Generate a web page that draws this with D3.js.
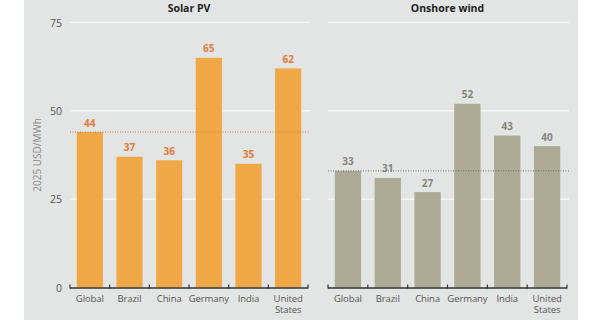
<!DOCTYPE html>
<html>
<head>
<meta charset="utf-8">
<script src="https://cdn.jsdelivr.net/npm/d3@7"></script>
<style>
    body { margin: 0; background: #fff; }
    svg { display: block; font-family: 'Open Sans', 'Noto Sans', sans-serif; }
</style>
</head>
<body>
<svg id="chart" width="600" height="320"></svg>
<script>
var countries = ['Global', 'Brazil', 'China', 'Germany', 'India', 'United States'];
var solarValues = [44, 37, 36, 65, 35, 62];
var windValues = [33, 31, 27, 52, 43, 40];
var yTicks = [0, 25, 50, 75];
var panelTitles = ['Solar PV', 'Onshore wind'];

var svg = d3.select('#chart');

// grey background panel
svg.append('rect')
    .attr('x', 24)
    .attr('y', 0)
    .attr('width', 554)
    .attr('height', 320)
    .attr('fill', '#e3e5e4');

var y = d3.scaleLinear().domain([0, 75]).range([287.5, 22.5]);

var panels = [
    {title: panelTitles[0], values: solarValues, x0: 70, x1: 308, bar: '#f0a846', label: '#e07b39', ref: '#c9824a'},
    {title: panelTitles[1], values: windValues, x0: 328, x1: 567, bar: '#aca994', label: '#85857c', ref: '#6f6f6a'}
];

// y axis labels
svg.selectAll('.ylab')
    .data(yTicks)
    .enter()
    .append('text')
    .attr('class', 'ylab')
    .attr('x', 62)
    .attr('y', function(d) { return y(d) + 4; })
    .attr('text-anchor', 'end')
    .attr('font-size', 10.5)
    .attr('fill', '#555')
    .text(function(d) { return d; });

svg.append('text')
    .attr('transform', 'translate(41,155) rotate(-90)')
    .attr('text-anchor', 'middle')
    .attr('font-size', 10)
    .attr('fill', '#8a8a8a')
    .text('2025 USD/MWh');

panels.forEach(function(p) {
    var x = d3.scaleBand().domain(countries).range([p.x0, p.x1]).paddingInner(0.34).paddingOuter(0.17);
    var g = svg.append('g');

    // gridlines
    g.selectAll('.grid')
        .data(yTicks.slice(1))
        .enter()
        .append('line')
        .attr('x1', p.x0)
        .attr('x2', p.x1 + 2)
        .attr('y1', function(d) { return y(d); })
        .attr('y2', function(d) { return y(d); })
        .style('stroke', '#fafafa')
        .style('stroke-width', 1.2);

    g.append('text')
        .attr('x', (p.x0 + p.x1) / 2)
        .attr('y', 12)
        .attr('text-anchor', 'middle')
        .attr('font-size', 10.5)
        .attr('font-weight', 'bold')
        .attr('fill', '#222')
        .text(p.title);

    g.selectAll('.bar')
        .data(p.values)
        .enter()
        .append('rect')
        .attr('x', function(d, i) { return x(countries[i]); })
        .attr('y', function(d) { return y(d); })
        .attr('width', x.bandwidth())
        .attr('height', function(d) { return y(0) - y(d); })
        .attr('fill', p.bar);

    g.selectAll('.val')
        .data(p.values)
        .enter()
        .append('text')
        .attr('x', function(d, i) { return x(countries[i]) + x.bandwidth() / 2; })
        .attr('y', function(d) { return y(d) - 5.5; })
        .attr('text-anchor', 'middle')
        .attr('font-size', 10)
        .attr('font-weight', 'bold')
        .attr('fill', p.label)
        .text(function(d) { return d; });

    // dotted reference line at the global value
    g.append('line')
        .attr('x1', p.x0)
        .attr('x2', p.x1 + 2)
        .attr('y1', y(p.values[0]))
        .attr('y2', y(p.values[0]))
        .style('stroke', p.ref)
        .style('stroke-width', 1)
        .style('stroke-dasharray', '1,1.5');

    // x axis
    var ticks = d3.range(countries.length + 1).map(function(i) {
        return p.x0 + i * (p.x1 - p.x0) / countries.length;
    });
    g.append('line')
        .attr('x1', p.x0)
        .attr('x2', p.x1)
        .attr('y1', y(0) + 0.5)
        .attr('y2', y(0) + 0.5)
        .style('stroke', '#333')
        .style('stroke-width', 1.5);
    g.selectAll('.tick')
        .data(ticks)
        .enter()
        .append('line')
        .attr('x1', function(d) { return d; })
        .attr('x2', function(d) { return d; })
        .attr('y1', y(0) - 3)
        .attr('y2', y(0) + 1)
        .style('stroke', '#333')
        .style('stroke-width', 1.2);

    // category labels, two-word names wrap onto a second line
    g.selectAll('.xlab')
        .data(countries)
        .enter()
        .append('text')
        .attr('text-anchor', 'middle')
        .attr('font-size', 9.5)
        .attr('letter-spacing', -0.1)
        .attr('fill', '#555')
        .each(function(d) {
            var words = d.split(' ');
            var t = d3.select(this);
            words.forEach(function(w, k) {
                t.append('tspan')
                    .attr('x', x(d) + x.bandwidth() / 2)
                    .attr('y', 302 + k * 11)
                    .text(w);
            });
        });
});
</script>
</body>
</html>
